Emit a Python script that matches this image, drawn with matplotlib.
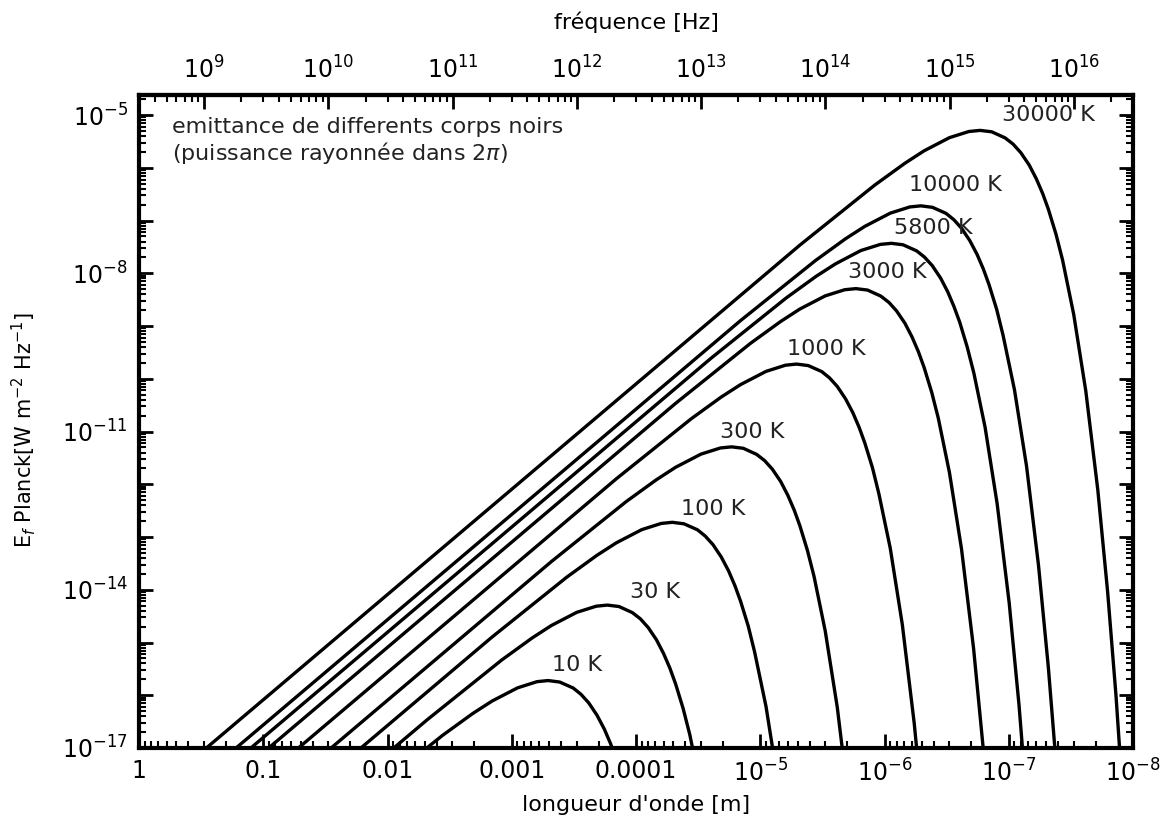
import numpy as np
import matplotlib
matplotlib.use("Agg")
import matplotlib.pyplot as plt
from matplotlib.ticker import FixedLocator, FixedFormatter, LogLocator, NullFormatter

C_LIGHT = 2.998e8  # m/s, for the top frequency axis

# ── curves: wavelength [m] and E_f [W m-2 Hz-1] ──
lam_10 = [1, 1.44e-2, 3.60e-3, 2.06e-3, 1.44e-3, 8.99e-4, 6.26e-4, 5.10e-4, 4.11e-4, 3.20e-4, 2.77e-4, 2.40e-4,
          2.06e-4, 1.80e-4, 1.60e-4, 1.44e-4]
E_10 = [2.76e-22, 1.27e-18, 1.74e-17, 4.51e-17, 7.76e-17, 1.38e-16, 1.81e-16, 1.90e-16, 1.78e-16, 1.37e-16,
        1.04e-16, 7.16e-17, 4.18e-17, 2.29e-17, 1.20e-17, 6.06e-18]

lam_30 = [1, 4.80e-3, 1.20e-3, 6.85e-4, 4.80e-4, 3.00e-4, 2.09e-4, 1.70e-4, 1.37e-4, 1.07e-4, 9.22e-5, 7.99e-5,
          6.85e-5, 6.00e-5, 5.33e-5, 4.80e-5, 4.17e-5, 3.69e-5, 3.00e-5]
E_30 = [8.28e-22, 3.42e-17, 4.69e-16, 1.22e-15, 2.10e-15, 3.73e-15, 4.88e-15, 5.12e-15, 4.81e-15, 3.69e-15,
        2.81e-15, 1.93e-15, 1.13e-15, 6.19e-16, 3.24e-16, 1.64e-16, 5.55e-17, 1.79e-17, 1.66e-18]

lam_100 = [1, 1.44e-3, 3.60e-4, 2.06e-4, 1.44e-4, 8.99e-5, 6.26e-5, 5.10e-5, 4.11e-5, 3.20e-5, 2.77e-5, 2.40e-5,
           2.06e-5, 1.80e-5, 1.60e-5, 1.44e-5, 1.25e-5, 1.11e-5, 8.99e-6, 7.19e-6]
E_100 = [2.76e-21, 1.27e-15, 1.74e-14, 4.51e-14, 7.76e-14, 1.38e-13, 1.81e-13, 1.90e-13, 1.78e-13, 1.37e-13,
         1.04e-13, 7.16e-14, 4.18e-14, 2.29e-14, 1.20e-14, 6.06e-15, 2.06e-15, 6.62e-16, 6.15e-17, 2.20e-18]

lam_300 = [1, 4.80e-4, 1.20e-4, 6.85e-5, 4.80e-5, 3.00e-5, 2.09e-5, 1.70e-5, 1.37e-5, 1.07e-5, 9.22e-6, 7.99e-6,
           6.85e-6, 6.00e-6, 5.33e-6, 4.80e-6, 4.17e-6, 3.69e-6, 3.00e-6, 2.40e-6, 1.92e-6]
E_300 = [8.28e-21, 3.42e-14, 4.69e-13, 1.22e-12, 2.10e-12, 3.73e-12, 4.88e-12, 5.12e-12, 4.81e-12, 3.69e-12,
         2.81e-12, 1.93e-12, 1.13e-12, 6.19e-13, 3.24e-13, 1.64e-13, 5.55e-14, 1.79e-14, 1.66e-15, 5.94e-17,
         7.82e-19]

lam_1000 = [1, 1.44e-4, 3.60e-5, 2.06e-5, 1.44e-5, 8.99e-6, 6.26e-6, 5.10e-6, 4.11e-6, 3.20e-6, 2.77e-6, 2.40e-6,
            2.06e-6, 1.80e-6, 1.60e-6, 1.44e-6, 1.25e-6, 1.11e-6, 8.99e-7, 7.19e-7, 5.76e-7, 4.80e-7]
E_1000 = [2.76e-20, 1.27e-12, 1.74e-11, 4.51e-11, 7.76e-11, 1.38e-10, 1.81e-10, 1.90e-10, 1.78e-10, 1.37e-10,
          1.04e-10, 7.16e-11, 4.18e-11, 2.29e-11, 1.20e-11, 6.06e-12, 2.06e-12, 6.62e-13, 6.15e-14, 2.20e-15,
          2.89e-17, 3.37e-19]

lam_3000 = [1, 4.80e-5, 1.20e-5, 6.85e-6, 4.80e-6, 3.00e-6, 2.09e-6, 1.70e-6, 1.37e-6, 1.07e-6, 9.22e-7, 7.99e-7,
            6.85e-7, 6.00e-7, 5.33e-7, 4.80e-7, 4.17e-7, 3.69e-7, 3.00e-7, 2.40e-7, 1.92e-7, 1.60e-7]
E_3000 = [8.28e-20, 3.42e-11, 4.69e-10, 1.22e-9, 2.10e-9, 3.73e-9, 4.88e-9, 5.12e-9, 4.81e-9, 3.69e-9,
          2.81e-9, 1.93e-9, 1.13e-9, 6.19e-10, 3.24e-10, 1.64e-10, 5.55e-11, 1.79e-11, 1.66e-12, 5.94e-14,
          7.82e-16, 9.10e-18]

lam_5800 = [1, 2.48e-5, 6.20e-6, 3.54e-6, 2.48e-6, 1.55e-6, 1.08e-6, 8.80e-7, 7.09e-7, 5.51e-7, 4.77e-7, 4.13e-7,
            3.54e-7, 3.10e-7, 2.76e-7, 2.48e-7, 2.16e-7, 1.91e-7, 1.55e-7, 1.24e-7, 9.92e-8, 8.27e-8, 7.09e-8]
E_5800 = [1.60e-19, 2.47e-10, 3.39e-9, 8.81e-9, 1.51e-8, 2.70e-8, 3.53e-8, 3.70e-8, 3.47e-8, 2.66e-8,
          2.03e-8, 1.40e-8, 8.15e-9, 4.47e-9, 2.34e-9, 1.18e-9, 4.01e-10, 1.29e-10, 1.20e-11, 4.29e-13,
          5.65e-15, 6.58e-17, 7.04e-19]

lam_10000 = [1, 1.44e-5, 3.60e-6, 2.06e-6, 1.44e-6, 8.99e-7, 6.26e-7, 5.10e-7, 4.11e-7, 3.20e-7, 2.77e-7, 2.40e-7,
             2.06e-7, 1.80e-7, 1.60e-7, 1.44e-7, 1.25e-7, 1.11e-7, 8.99e-8, 7.19e-8, 5.76e-8, 4.80e-8, 4.11e-8]
E_10000 = [2.76e-19, 1.27e-9, 1.74e-8, 4.51e-8, 7.76e-8, 1.38e-7, 1.81e-7, 1.90e-7, 1.78e-7, 1.37e-7,
           1.04e-7, 7.16e-8, 4.18e-8, 2.29e-8, 1.20e-8, 6.06e-9, 2.06e-9, 6.62e-10, 6.15e-11, 2.20e-12,
           2.89e-14, 3.37e-16, 3.61e-18]

lam_30000 = [1, 4.80e-6, 1.20e-6, 6.85e-7, 4.80e-7, 3.00e-7, 2.09e-7, 1.70e-7, 1.37e-7, 1.07e-7, 9.22e-8, 7.99e-8,
             6.85e-8, 6.00e-8, 5.33e-8, 4.80e-8, 4.17e-8, 3.69e-8, 3.00e-8, 2.40e-8, 1.92e-8, 1.60e-8, 1.37e-8,
             1.20e-8]
E_30000 = [8.28e-19, 3.42e-8, 4.69e-7, 1.22e-6, 2.10e-6, 3.73e-6, 4.88e-6, 5.12e-6, 4.81e-6, 3.69e-6,
           2.81e-6, 1.93e-6, 1.13e-6, 6.19e-7, 3.24e-7, 1.64e-7, 5.55e-8, 1.79e-8, 1.66e-9, 5.94e-11,
           7.82e-13, 9.10e-15, 9.74e-17, 9.79e-19]

# curve labels and where they sit (wavelength, E)
curve_labels = ["10 K", "30 K", "100 K", "300 K", "1000 K", "3000 K", "5800 K", "10000 K", "30000 K"]
label_lam = [3.0e-4, 7.0e-5, 2.4e-5, 1.17e-5, 2.95e-6, 9.5e-7, 4.07e-7, 2.71e-7, 4.83e-8]
label_E = [3.7e-16, 9.1e-15, 3.4e-13, 9.8e-12, 3.6e-10, 1.05e-8, 7.3e-8, 4.7e-7, 1.0e-5]

# axes ticks
wl_ticks = [1, 0.1, 0.01, 1e-3, 1e-4, 1e-5, 1e-6, 1e-7, 1e-8]
wl_labels = ["1", "0.1", "0.01", "0.001", "0.0001", r"$10^{-5}$", r"$10^{-6}$", r"$10^{-7}$", r"$10^{-8}$"]
freq_ticks = [1e9, 1e10, 1e11, 1e12, 1e13, 1e14, 1e15, 1e16]
freq_labels = [r"$10^{9}$", r"$10^{10}$", r"$10^{11}$", r"$10^{12}$", r"$10^{13}$", r"$10^{14}$",
               r"$10^{15}$", r"$10^{16}$"]
y_decades = [10.0 ** k for k in range(-17, -4)]
y_labels = {-5: r"$10^{-5}$", -8: r"$10^{-8}$", -11: r"$10^{-11}$", -14: r"$10^{-14}$", -17: r"$10^{-17}$"}

plt.rcParams.update({
    "font.family": "DejaVu Sans", "mathtext.fontset": "dejavusans",
    "xtick.direction": "in", "ytick.direction": "in",
})

W, H = 1163, 824
fig = plt.figure(figsize=(W / 100, H / 100), dpi=100)
ax = fig.add_axes([139 / W, 1 - 748 / H, (1133 - 139) / W, (748 - 95) / H])

curves = [(lam_10, E_10), (lam_30, E_30), (lam_100, E_100), (lam_300, E_300), (lam_1000, E_1000),
          (lam_3000, E_3000), (lam_5800, E_5800), (lam_10000, E_10000), (lam_30000, E_30000)]
for lam, E in curves:
    ax.plot(lam, E, color="black", lw=2.4, solid_joinstyle="round", solid_capstyle="round")

ax.set_xscale("log"); ax.set_yscale("log")
ax.set_xlim(1, 1e-8); ax.set_ylim(1e-17, 2.4e-5)

for txt, lx, ly in zip(curve_labels, label_lam, label_E):
    ax.text(lx, ly, txt, ha="center", va="center", fontsize=16, color="#222222")

# bottom axis (wavelength)
ax.xaxis.set_major_locator(FixedLocator(wl_ticks))
ax.xaxis.set_major_formatter(FixedFormatter(wl_labels))
ax.xaxis.set_minor_locator(LogLocator(base=10, subs=np.arange(2, 10), numticks=50))
ax.xaxis.set_minor_formatter(NullFormatter())

# left / right axis
ax.yaxis.set_major_locator(FixedLocator(y_decades))
ax.yaxis.set_major_formatter(FixedFormatter([y_labels.get(k, "") for k in range(-17, -4)]))
ax.yaxis.set_minor_locator(LogLocator(base=10, subs=np.arange(2, 10), numticks=50))
ax.yaxis.set_minor_formatter(NullFormatter())

ax.tick_params(which="major", length=10, width=2, labelsize=17, top=False, right=True, pad=8)
ax.tick_params(which="minor", length=5, width=1.5, top=False, right=True)
for s in ax.spines.values():
    s.set_linewidth(3)


def lam_to_freq(lam):
    lam = np.asarray(lam, dtype=float)
    with np.errstate(divide="ignore"):
        return C_LIGHT / lam


# top axis (frequency)
top = ax.secondary_xaxis("top", functions=(lam_to_freq, lam_to_freq))
top.xaxis.set_major_locator(FixedLocator(freq_ticks))
top.xaxis.set_major_formatter(FixedFormatter(freq_labels))
top.xaxis.set_minor_locator(LogLocator(base=10, subs=np.arange(2, 10), numticks=50))
top.xaxis.set_minor_formatter(NullFormatter())
top.tick_params(which="major", direction="in", length=10, width=2, labelsize=17, pad=8)
top.tick_params(which="minor", direction="in", length=5, width=1.5)
top.spines["top"].set_linewidth(3)

fig.text(172 / W, 1 - 117 / H, "emittance de differents corps noirs\n(puissance rayonnée dans 2$\\pi$)",
         ha="left", va="top", fontsize=16, color="#222222", linespacing=1.15)

fig.text(636 / W, 1 - 805 / H, "longueur d'onde [m]", ha="center", va="center", fontsize=16)
fig.text(636 / W, 1 - 22 / H, "fréquence [Hz]", ha="center", va="center", fontsize=16)
fig.text(24 / W, 1 - 430 / H, r"E$_f$ Planck[W m$^{-2}$ Hz$^{-1}$]", ha="center", va="center",
         rotation=90, fontsize=15)

fig.savefig("out.png", dpi=100)
